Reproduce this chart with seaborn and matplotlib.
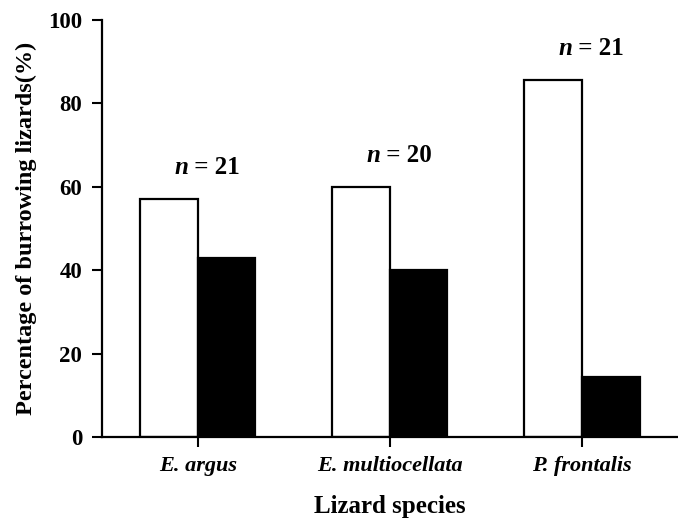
import matplotlib
matplotlib.use("Agg")
import matplotlib.pyplot as plt
import pandas as pd
import seaborn as sns

# Data
species = ["E. argus", "E. multiocellata", "P. frontalis"]
burrowed = [57.1, 60.0, 85.7]
not_burrowed = [42.9, 40.0, 14.3]
n_labels = ["21", "20", "21"]

df = pd.DataFrame({
    "species": species * 2,
    "pct": burrowed + not_burrowed,
    "group": ["Burrowed"] * 3 + ["Not burrowed"] * 3,
})

sns.set_style("ticks")
plt.rcParams["font.family"] = ["Liberation Serif", "DejaVu Serif"]
plt.rcParams["text.color"] = "black"
plt.rcParams["axes.labelcolor"] = "black"

fig = plt.figure(figsize=(6.78, 5.23), dpi=100)
ax = fig.add_axes([0.150, 0.1644, 0.85, 0.7974])

sns.barplot(data=df, x="species", y="pct", hue="group",
            palette=["white", "black"], edgecolor="black", linewidth=1.6,
            width=0.6, saturation=1, legend=False, ax=ax)

ax.set_xlim(-0.5, 2.5)
ax.set_ylim(0, 100)
ax.set_yticks([0, 20, 40, 60, 80, 100])
ax.set_yticklabels(["0", "20", "40", "60", "80", "100"], fontsize=16.5, fontweight="bold")
ax.set_xticks(range(len(species)))
ax.set_xticklabels(species, fontsize=16, fontweight="bold", style="italic")
ax.tick_params(axis="both", direction="out", length=7, width=1.5, colors="black", pad=7)
ax.tick_params(axis="x", pad=7)

ax.set_xlabel("Lizard species", fontsize=18, fontweight="bold", labelpad=13)
ax.set_ylabel("Percentage of burrowing lizards(%)", fontsize=17.5, fontweight="bold", labelpad=8)

for s in ["top", "right"]:
    ax.spines[s].set_visible(False)
for s in ["left", "bottom"]:
    ax.spines[s].set_linewidth(1.6)
    ax.spines[s].set_color("black")

# sample size labels above each group
for i, n in enumerate(n_labels):
    top = max(burrowed[i], not_burrowed[i])
    ax.text(i - 0.05, top + 7.5, "n", ha="right", va="center",
            fontsize=18, fontweight="bold", style="italic")
    ax.text(i - 0.05, top + 7.5, " = " + n, ha="left", va="center",
            fontsize=18, fontweight="bold")

fig.savefig("out.png", dpi=100)
